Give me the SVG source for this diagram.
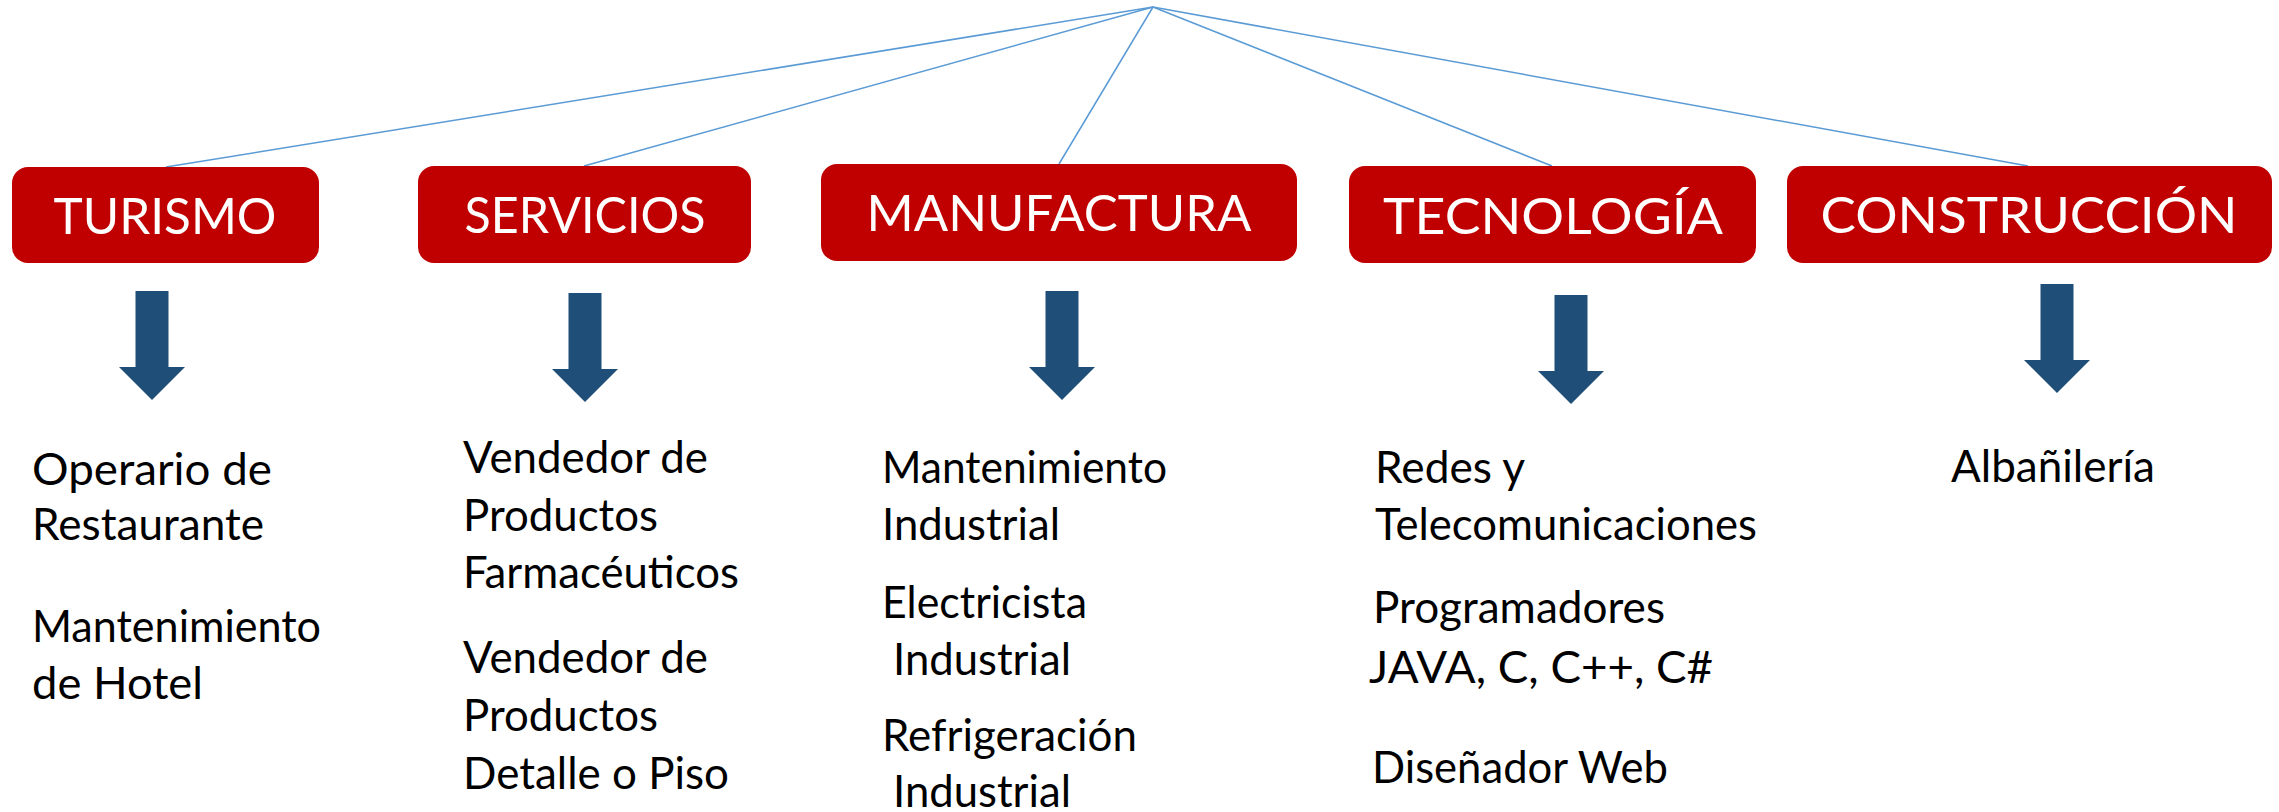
<svg xmlns="http://www.w3.org/2000/svg" xmlns:xlink="http://www.w3.org/1999/xlink" width="2279" height="812" viewBox="0 0 2279 812">
<style>
.box{fill:#C00000;}
.title{font-family:Lato,"Open Sans","Liberation Sans",sans-serif;font-size:51px;fill:#FFFFFF;text-anchor:middle;}
.item{font-family:Lato,"Open Sans","Liberation Sans",sans-serif;font-size:44px;fill:#000000;}
.conn{stroke:#5B9BD5;stroke-width:1.5;fill:none;}
.arr{fill:#1F4E79;}
</style>
<defs>
<path id="arrow" d="M-16.5,0 H16.5 V76 H33 L0,109 L-33,76 H-16.5 Z"/>
</defs>
<rect width="2279" height="812" fill="#FFFFFF"/>
<g id="connectors">
<line class="conn" x1="1153" y1="7" x2="166" y2="167"/>
<line class="conn" x1="1153" y1="7" x2="584" y2="166"/>
<line class="conn" x1="1153" y1="7" x2="1059" y2="164"/>
<line class="conn" x1="1153" y1="7" x2="1552" y2="166"/>
<line class="conn" x1="1153" y1="7" x2="2028" y2="166"/>
<use class="arr" xlink:href="#arrow" href="#arrow" x="152" y="291"/>
<use class="arr" xlink:href="#arrow" href="#arrow" x="585" y="293"/>
<use class="arr" xlink:href="#arrow" href="#arrow" x="1062" y="291"/>
<use class="arr" xlink:href="#arrow" href="#arrow" x="1571" y="295"/>
<use class="arr" xlink:href="#arrow" href="#arrow" x="2057" y="284"/>
</g>
<g id="turismo">
<rect class="box" x="12" y="167" width="307" height="96" rx="16"/>
<text class="title" x="165" y="234" textLength="223" lengthAdjust="spacingAndGlyphs">TURISMO</text>
</g>
<g id="servicios">
<rect class="box" x="418" y="166" width="333" height="97" rx="16"/>
<text class="title" x="585" y="233" textLength="241" lengthAdjust="spacingAndGlyphs">SERVICIOS</text>
</g>
<g id="manufactura">
<rect class="box" x="821" y="164" width="476" height="97" rx="16"/>
<text class="title" x="1059" y="231" textLength="385" lengthAdjust="spacingAndGlyphs">MANUFACTURA</text>
</g>
<g id="tecnologia">
<rect class="box" x="1349" y="166" width="407" height="97" rx="16"/>
<text class="title" x="1553" y="234" textLength="340" lengthAdjust="spacingAndGlyphs">TECNOLOGÍA</text>
</g>
<g id="construccion">
<rect class="box" x="1787" y="166" width="485" height="97" rx="16"/>
<text class="title" x="2029" y="233" textLength="417" lengthAdjust="spacingAndGlyphs">CONSTRUCCIÓN</text>
</g>
<g id="turismo-items">
<text class="item" x="32" y="485" textLength="240" lengthAdjust="spacingAndGlyphs">Operario de</text>
<text class="item" x="32" y="540" textLength="232" lengthAdjust="spacingAndGlyphs">Restaurante</text>
<text class="item" x="32" y="642" textLength="289" lengthAdjust="spacingAndGlyphs">Mantenimiento</text>
<text class="item" x="32" y="699" textLength="171" lengthAdjust="spacingAndGlyphs">de Hotel</text>
</g>
<g id="servicios-items">
<text class="item" x="463" y="473" textLength="245" lengthAdjust="spacingAndGlyphs">Vendedor de</text>
<text class="item" x="463" y="531" textLength="195" lengthAdjust="spacingAndGlyphs">Productos</text>
<text class="item" x="463" y="588" textLength="276" lengthAdjust="spacingAndGlyphs">Farmacéuticos</text>
<text class="item" x="463" y="673" textLength="245" lengthAdjust="spacingAndGlyphs">Vendedor de</text>
<text class="item" x="463" y="731" textLength="195" lengthAdjust="spacingAndGlyphs">Productos</text>
<text class="item" x="463" y="789" textLength="266" lengthAdjust="spacingAndGlyphs">Detalle o Piso</text>
</g>
<g id="manufactura-items">
<text class="item" x="882" y="483" textLength="285" lengthAdjust="spacingAndGlyphs">Mantenimiento</text>
<text class="item" x="882" y="540" textLength="178" lengthAdjust="spacingAndGlyphs">Industrial</text>
<text class="item" x="882" y="618" textLength="205" lengthAdjust="spacingAndGlyphs">Electricista</text>
<text class="item" x="893" y="675" textLength="178" lengthAdjust="spacingAndGlyphs">Industrial</text>
<text class="item" x="882" y="751" textLength="255" lengthAdjust="spacingAndGlyphs">Refrigeración</text>
<text class="item" x="893" y="807" textLength="178" lengthAdjust="spacingAndGlyphs">Industrial</text>
</g>
<g id="tecnologia-items">
<text class="item" x="1375" y="483" textLength="150" lengthAdjust="spacingAndGlyphs">Redes y</text>
<text class="item" x="1375" y="540" textLength="382" lengthAdjust="spacingAndGlyphs">Telecomunicaciones</text>
<text class="item" x="1373" y="623" textLength="292" lengthAdjust="spacingAndGlyphs">Programadores</text>
<text class="item" x="1369" y="683" textLength="344" lengthAdjust="spacingAndGlyphs">JAVA, C, C++, C#</text>
<text class="item" x="1372" y="783" textLength="296" lengthAdjust="spacingAndGlyphs">Diseñador Web</text>
</g>
<g id="construccion-items">
<text class="item" x="1951" y="482" textLength="204" lengthAdjust="spacingAndGlyphs">Albañilería</text>
</g>
</svg>
